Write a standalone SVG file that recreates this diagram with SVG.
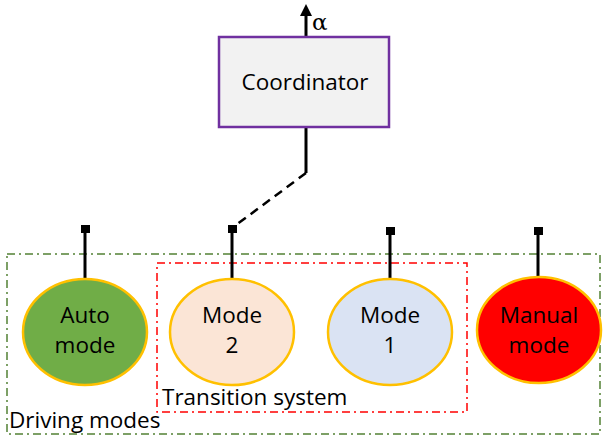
<svg xmlns="http://www.w3.org/2000/svg" width="603" height="443" viewBox="0 0 603 443">
<defs>
<style>
.t{font-family:"Open Sans","Liberation Sans",sans-serif;font-size:22.5px;fill:#000;text-anchor:middle}
.tl{font-family:"Open Sans","Liberation Sans",sans-serif;font-size:22.5px;fill:#000}
.ell{stroke:#FFC000;stroke-width:2.5}
.wire{stroke:#000;stroke-width:3;fill:none}
.pin{fill:#000}
</style>
<marker id="arr" markerWidth="4" markerHeight="4" refX="2" refY="2" orient="auto" markerUnits="strokeWidth">
<path d="M0,0 L4,2 L0,4 Z" fill="#000"/>
</marker>
</defs>
<rect x="0" y="0" width="603" height="443" fill="#fff"/>
<g id="driving-modes">
<rect x="7" y="254" width="593" height="180" fill="none" stroke="#538135" stroke-width="1.5" stroke-dasharray="8 4 2 4"/>
<text class="tl" x="9" y="428">Driving modes</text>
</g>
<g id="transition-system">
<rect x="157" y="263" width="310" height="149" fill="none" stroke="#FF0000" stroke-width="1.5" stroke-dasharray="8 4 2 4"/>
<text class="tl" x="162" y="405">Transition system</text>
</g>
<g id="connectors">
<line class="wire" x1="306" y1="37" x2="306" y2="10" marker-end="url(#arr)"/>
<polyline class="wire" points="306,127 306,173"/>
<line x1="306" y1="173" x2="232" y2="228" stroke="#000" stroke-width="2.5" stroke-dasharray="9 6"/>
<line class="wire" x1="85" y1="229" x2="85" y2="279"/>
<rect class="pin" x="81" y="225" width="9" height="8"/>
<line class="wire" x1="232" y1="229" x2="232" y2="279"/>
<rect class="pin" x="228" y="225" width="9" height="8"/>
<line class="wire" x1="390" y1="229" x2="390" y2="279"/>
<rect class="pin" x="386" y="227" width="9" height="8"/>
<line class="wire" x1="538" y1="229" x2="538" y2="277"/>
<rect class="pin" x="534" y="227" width="9" height="8"/>
</g>
<g id="alpha"><text x="312" y="30" style="font-family:'DejaVu Serif','Liberation Serif',serif;font-size:23px;fill:#000">α</text></g>
<g id="coordinator">
<rect x="219" y="37" width="170" height="90" fill="#F2F2F2" stroke="#7030A0" stroke-width="2.5"/>
<text class="t" x="305" y="90">Coordinator</text>
</g>
<g id="auto-mode">
<ellipse class="ell" cx="85" cy="332" rx="62" ry="53" fill="#70AD47"/>
<text class="t" x="85" y="323">Auto</text>
<text class="t" x="85" y="353">mode</text>
</g>
<g id="mode-2">
<ellipse class="ell" cx="232" cy="332" rx="62" ry="53" fill="#FBE5D6"/>
<text class="t" x="232" y="323">Mode</text>
<text class="t" x="232" y="353">2</text>
</g>
<g id="mode-1">
<ellipse class="ell" cx="390" cy="332" rx="62" ry="53" fill="#DAE3F3"/>
<text class="t" x="390" y="323">Mode</text>
<text class="t" x="390" y="353">1</text>
</g>
<g id="manual-mode">
<ellipse class="ell" cx="539" cy="330" rx="62" ry="53" fill="#FF0000"/>
<text class="t" x="539" y="323">Manual</text>
<text class="t" x="539" y="353">mode</text>
</g>
</svg>
